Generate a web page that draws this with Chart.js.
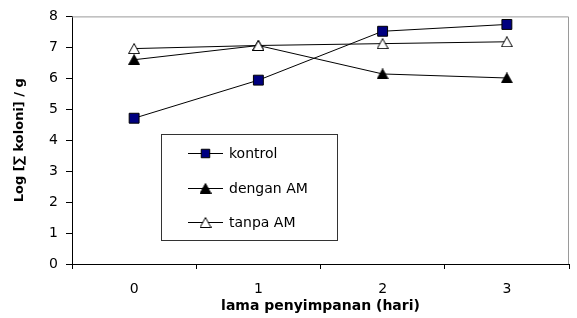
<!DOCTYPE html>
<html>
<head>
<meta charset="utf-8">
<script src="https://cdn.jsdelivr.net/npm/chart.js@4.4.1/dist/chart.umd.min.js"></script>
<style>
  html, body { margin: 0; padding: 0; background: #fff; }
  #wrap { width: 577px; height: 318px; }
</style>
</head>
<body>
<div id="wrap"><canvas id="c"></canvas></div>
<script>
/* ---------------------------------------------------------------- data */
const HARI = ['0', '1', '2', '3'];
const KONTROL = [4.71, 5.94, 7.52, 7.74];
const DENGAN_AM = [6.60, 7.06, 6.14, 6.01];
const TANPA_AM = [6.96, 7.06, 7.12, 7.18];
const SERIES_NAMES = ['kontrol', 'dengan AM', 'tanpa AM'];
const Y_MIN = 0, Y_MAX = 8, Y_STEP = 1;

const FONT = '"DejaVu Sans", "Liberation Sans", Arial, sans-serif';

// segitiga sebagai canvas kecil supaya pusat kotaknya tepat di titik data
function triangle(fill) {
  const cv = document.createElement('canvas');
  cv.width = 12; cv.height = 11;
  const c = cv.getContext('2d');
  c.beginPath();
  c.moveTo(6, 0.5); c.lineTo(11.5, 10.5); c.lineTo(0.5, 10.5); c.closePath();
  c.fillStyle = fill; c.fill();
  c.strokeStyle = '#000'; c.lineWidth = 1; c.stroke();
  return cv;
}

// order: angka kecil digambar paling atas (tanpa AM menutupi dengan AM di hari 1)
const datasets = [
  { label: SERIES_NAMES[0], data: KONTROL, order: 2, pointStyle: 'rect', pointRadius: 7,
    pointBackgroundColor: '#000080', pointBorderColor: '#000', pointBorderWidth: 1 },
  { label: SERIES_NAMES[1], data: DENGAN_AM, order: 1, pointStyle: triangle('#000'), pointRadius: 6 },
  { label: SERIES_NAMES[2], data: TANPA_AM, order: 0, pointStyle: triangle('#fff'), pointRadius: 6 },
].map(function (d) {
  return Object.assign({ borderColor: '#000', borderWidth: 1, tension: 0, fill: false }, d);
});

/* ------------------------------------------------------------- plugins */
// garis abu-abu di atas & kanan area plot
const frame = {
  id: 'frame',
  beforeDatasetsDraw(chart) {
    const { ctx, chartArea: a } = chart;
    ctx.save();
    ctx.strokeStyle = '#9a9a9a'; ctx.lineWidth = 1;
    ctx.beginPath();
    ctx.moveTo(a.left, a.top + 0.5);
    ctx.lineTo(a.right - 0.5, a.top + 0.5);
    ctx.lineTo(a.right - 0.5, a.bottom);
    ctx.stroke();
    ctx.restore();
  }
};

// legenda di dalam area plot (kotak bergaris)
const LEGEND_BOX = { x: 161, y: 134, w: 176, h: 106, rowY: [153, 188, 222], lineX1: 188, lineX2: 223, textX: 229 };
const boxLegend = {
  id: 'boxLegend',
  afterDraw(chart) {
    const { ctx } = chart;
    const b = LEGEND_BOX;
    ctx.save();
    ctx.fillStyle = '#fff';
    ctx.fillRect(b.x, b.y, b.w, b.h);
    ctx.strokeStyle = '#333'; ctx.lineWidth = 1;
    ctx.strokeRect(b.x + 0.5, b.y + 0.5, b.w, b.h);
    chart.data.datasets.forEach(function (ds, i) {
      const y = b.rowY[i];
      ctx.strokeStyle = '#000'; ctx.lineWidth = 1;
      ctx.beginPath(); ctx.moveTo(b.lineX1, y + 0.5); ctx.lineTo(b.lineX2, y + 0.5); ctx.stroke();
      const isRect = ds.pointStyle === 'rect';
      ctx.fillStyle = ds.pointBackgroundColor || '#000';
      ctx.strokeStyle = '#000';
      Chart.helpers.drawPoint(ctx, {
        pointStyle: ds.pointStyle, radius: isRect ? 6 : ds.pointRadius, rotation: 0, borderWidth: 1
      }, (b.lineX1 + b.lineX2) / 2, y + 0.5);
      ctx.fillStyle = '#000';
      ctx.font = '14px ' + FONT;
      ctx.textBaseline = 'middle'; ctx.textAlign = 'left';
      ctx.fillText(ds.label, b.textX, y + 1);
    });
    ctx.restore();
  }
};

/* --------------------------------------------------------------- chart */
new Chart(document.getElementById('c'), {
  type: 'line',
  data: { labels: HARI, datasets: datasets },
  plugins: [frame, boxLegend],
  options: {
    responsive: true, maintainAspectRatio: false, animation: false,
    layout: { padding: { left: 0, top: 16, right: 2, bottom: 0 } },
    plugins: { legend: { display: false }, tooltip: { enabled: false } },
    scales: {
      x: {
        offset: true,
        afterFit: function (s) { s.height = 54; },
        grid: { offset: true, drawOnChartArea: false, color: '#000', tickLength: 5, tickColor: '#000' },
        border: { color: '#000', width: 1 },
        ticks: { color: '#000', padding: 12, font: { family: FONT, size: 14 } },
        title: { display: true, text: 'lama penyimpanan (hari)', color: '#000',
          padding: { top: 0, bottom: 3 }, font: { family: FONT, size: 14, weight: 'bold' } }
      },
      y: {
        min: Y_MIN, max: Y_MAX,
        afterFit: function (s) { s.width = 72; },
        grid: { drawOnChartArea: false, color: '#000', tickLength: 6, tickColor: '#000' },
        border: { color: '#000', width: 1 },
        ticks: { stepSize: Y_STEP, color: '#000', padding: 8, font: { family: FONT, size: 14 } },
        title: { display: true, text: 'Log [∑ koloni] / g', color: '#000',
          padding: { top: 12, bottom: 0 }, font: { family: FONT, size: 13, weight: 'bold' } }
      }
    }
  }
});
</script>
</body>
</html>
